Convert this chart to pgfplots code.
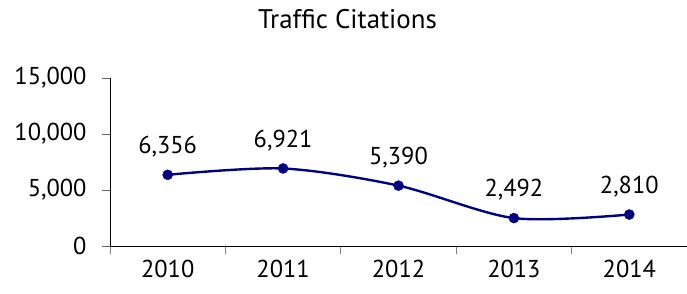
\documentclass[border=0pt]{standalone}
\usepackage{fontspec}
\setmainfont{PT Sans}
\usepackage{pgfplots}
\pgfplotsset{compat=1.18}
\definecolor{navyline}{RGB}{0,0,128}
\begin{document}
\begin{tikzpicture}
\begin{axis}[
  scale only axis,
  width=577bp, height=168bp,
  xmin=-0.5, xmax=4.5,
  ymin=0, ymax=15000,
  axis x line=bottom, axis y line=left,
  axis line style={-, black, line width=0.8pt},
  xtick={0,1,2,3,4},
  xticklabels={2010,2011,2012,2013,2014},
  major x tick style={draw=none},
  minor xtick={-0.5,0.5,1.5,2.5,3.5},
  minor x tick style={gray, line width=0.8pt},
  minor tick length=8bp,
  ytick={0,5000,10000,15000},
  major tick length=8bp,
  tick align=outside,
  ytick style={black!60, line width=0.8pt},
  yticklabels={0,{5,000},{10,000},{15,000}},
  scaled y ticks=false,
  tick label style={font=\fontsize{24.5}{28}\selectfont},
  xticklabel style={yshift=-3bp},
  yticklabel style={xshift=-12bp},
  title={Traffic Citations},
  title style={font=\fontsize{27}{31}\selectfont, yshift=40bp, xshift=-51bp},
  clip=false,
]
\addplot[navyline, line width=2.4pt, smooth, tension=0.5, mark=*, mark size=5bp, mark options={fill=navyline, draw=navyline, line width=0.5pt},
  nodes near coords={\pgfmathprintnumber[assume math mode=true, 1000 sep={,}]{\pgfplotspointmeta}},
  nodes near coords style={font=\fontsize{24.5}{28}\selectfont, black, yshift=14bp},
  point meta=explicit]
  coordinates {(0,6356)[6356] (1,6921)[6921] (2,5390)[5390] (3,2492)[2492] (4,2810)[2810]};
\end{axis}
\pgfresetboundingbox
\useasboundingbox (-110bp,-48bp) rectangle (577bp,246bp);
\end{tikzpicture}
\end{document}
